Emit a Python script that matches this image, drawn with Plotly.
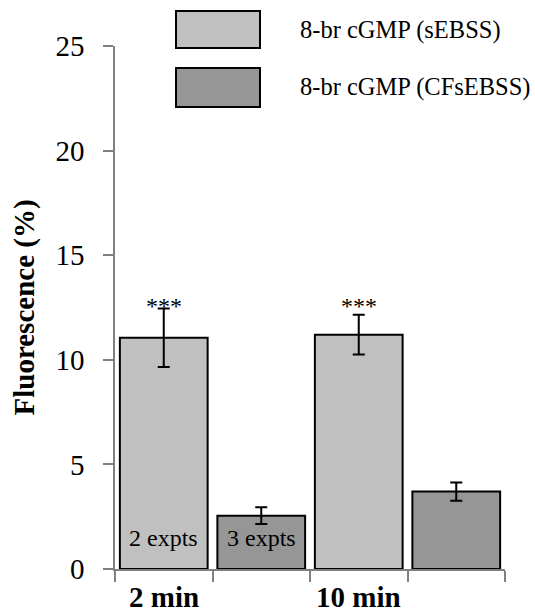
import plotly.graph_objects as go

# ---- data ----
categories = ["2 min", "10 min"]
series_names = ["8-br cGMP (sEBSS)", "8-br cGMP (CFsEBSS)"]
sebss_vals = [11.05, 11.2]
sebss_err = [1.4, 0.95]
cfsebss_vals = [2.55, 3.7]
cfsebss_err = [0.4, 0.44]
n_labels = ["2 expts", "3 expts"]      # on the two 2-min bars
sig_labels = ["***", "***"]            # above the sEBSS bars
y_ticks = [0, 5, 10, 15, 20, 25]

colors = ["#c0c0c0", "#969696"]
FONT = "Liberation Serif"
AXIS_GRAY = "#808080"

W, H = 535, 613
ML, MR, MT, MB = 115, 30, 46, 44
PW, PH = W - ML - MR, H - MT - MB

def px_to_paper(px, py):
    return (px - ML) / PW, (H - MB - py) / PH

# bar positions: each category has two adjacent slots
x_s = [2 * i for i in range(len(categories))]
x_c = [2 * i + 1 for i in range(len(categories))]

fig = go.Figure()
fig.add_trace(go.Bar(
    x=x_s, y=sebss_vals, width=0.9, name=series_names[0],
    marker=dict(color=colors[0], line=dict(color="black", width=2)),
    error_y=dict(type="data", array=sebss_err, color="black", thickness=2, width=6),
    showlegend=False,
))
fig.add_trace(go.Bar(
    x=x_c, y=cfsebss_vals, width=0.9, name=series_names[1],
    marker=dict(color=colors[1], line=dict(color="black", width=2)),
    error_y=dict(type="data", array=cfsebss_err, color="black", thickness=2, width=6),
    showlegend=False,
))

annotations = []
# category labels under first bar of each group
for xi, lab in zip(x_s, categories):
    annotations.append(dict(x=xi, y=0, xref="x", yref="paper", text=f"<b>{lab}</b>",
                            showarrow=False, yanchor="middle", yshift=-28,
                            font=dict(family=FONT, size=29, color="black")))
# significance stars
for xi, s in zip(x_s, sig_labels):
    annotations.append(dict(x=xi, y=12.57, xref="x", yref="y", text=s, showarrow=False,
                            yanchor="middle", font=dict(family=FONT, size=24, color="black")))
# experiment counts inside the 2-min bars
for xi, t in zip([x_s[0], x_c[0]], n_labels):
    annotations.append(dict(x=xi, y=1.48, xref="x", yref="y", text=t, showarrow=False,
                            yanchor="middle", font=dict(family=FONT, size=24, color="black")))
# y axis title
annotations.append(dict(x=0, y=0.5, xref="paper", yref="paper", xshift=-91,
                        text="<b>Fluorescence (%)</b>", textangle=-90, showarrow=False,
                        xanchor="center", yanchor="middle",
                        font=dict(family=FONT, size=29, color="black")))

# custom legend (big swatches)
shapes = []
legend_rows = [(11, 48), (68, 107)]
for (y0, y1), name, col in zip(legend_rows, series_names, colors):
    ax0, ay0 = px_to_paper(176, y0)
    ax1, ay1 = px_to_paper(260, y1)
    shapes.append(dict(type="rect", xref="paper", yref="paper", x0=ax0, x1=ax1,
                       y0=ay1, y1=ay0, fillcolor=col, line=dict(color="black", width=2)))
    tx, ty = px_to_paper(298, (y0 + y1) / 2)
    annotations.append(dict(x=tx, y=ty, xref="paper", yref="paper", text=name,
                            showarrow=False, xanchor="left", yanchor="middle",
                            font=dict(family=FONT, size=24.5, color="black")))

fig.update_layout(
    width=W, height=H,
    margin=dict(l=ML, r=MR, t=MT, b=MB, pad=0),
    paper_bgcolor="white", plot_bgcolor="white",
    showlegend=False,
    annotations=annotations, shapes=shapes,
    xaxis=dict(range=[-0.5, 3.5], tickvals=[-0.5, 0.5, 1.5, 2.5, 3.5],
               ticktext=["", "", "", "", ""], ticks="outside", ticklen=11,
               tickcolor=AXIS_GRAY, tickwidth=1.5, showline=True, linecolor=AXIS_GRAY,
               linewidth=1.5, showgrid=False, zeroline=False, fixedrange=True),
    yaxis=dict(range=[0, 25], tickvals=y_ticks, ticks="outside", ticklen=10,
               tickcolor=AXIS_GRAY, tickwidth=1.5, showline=True, linecolor=AXIS_GRAY,
               linewidth=1.5, showgrid=False, zeroline=False, ticklabelstandoff=13,
               tickfont=dict(family=FONT, size=29, color="black")),
)

fig.write_html("out.html")
